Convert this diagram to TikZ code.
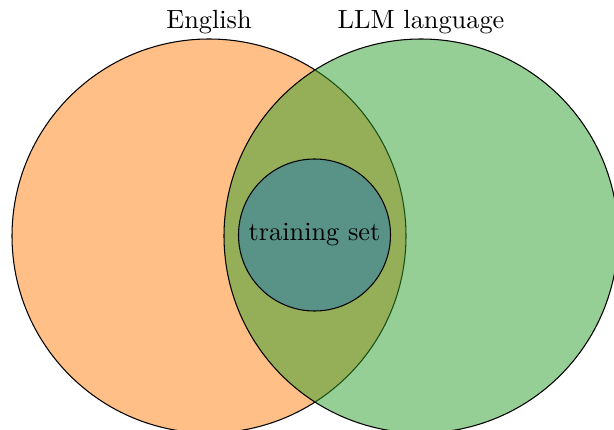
\documentclass[tikz,border=0pt]{standalone}
\definecolor{taborange}{HTML}{FF7F0E}
\definecolor{tabgreen}{HTML}{2CA02C}
\definecolor{tabblue}{HTML}{1F77B4}
\begin{document}
\begin{tikzpicture}[x=0.38pt,y=-0.38pt,
  setcircle/.style={circle,draw=black,line width=0.4pt,fill opacity=0.5,inner sep=0pt,text opacity=1},
  setlabel/.style={inner sep=0pt,font=\normalsize}]
\useasboundingbox (0,0) rectangle (614,430);
\clip (0,0) rectangle (614,430);
\node[setcircle,fill=taborange,minimum size=394*0.38pt] (english) at (209,236) {};
\node[setcircle,fill=tabgreen,minimum size=394*0.38pt] (llm) at (421,236) {};
\node[setcircle,fill=tabblue,minimum size=152*0.38pt] (train) at (314.5,235) {training set};
\node[setlabel] (lenglish) at (209,22) {English};
\node[setlabel] (lllm) at (421,22) {LLM language};
\end{tikzpicture}
\end{document}
